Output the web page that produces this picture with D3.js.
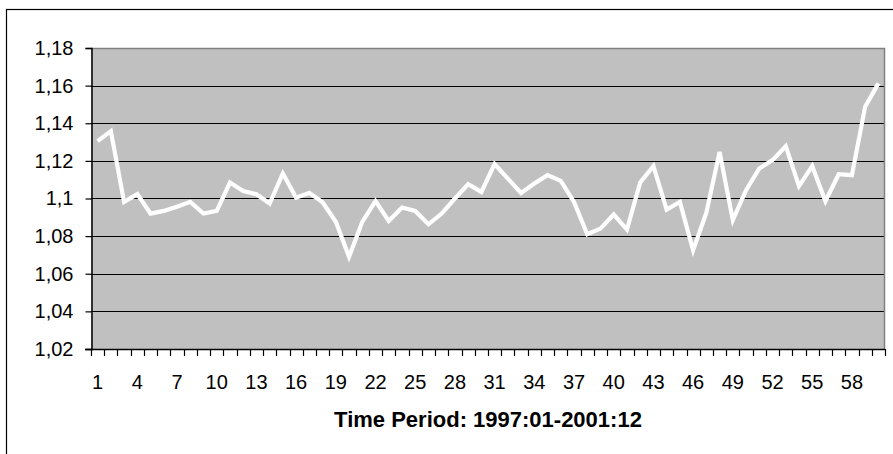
<!DOCTYPE html>
<html>
<head>
<meta charset="utf-8">
<script src="https://cdn.jsdelivr.net/npm/d3@7/dist/d3.min.js"></script>
<style>
  html, body { margin: 0; padding: 0; background: #ffffff; }
  svg { display: block; }
  text { font-family: "Liberation Sans", Arial, sans-serif; fill: #000; }
</style>
</head>
<body>
<svg id="chart" width="893" height="454"></svg>
<script>
// Monthly index, 1997:01 - 2001:12 (periods 1..60)
const periods = d3.range(1, 61);
const values = [
  1.1305, 1.1358, 1.0982, 1.1023, 1.0920, 1.0934, 1.0956, 1.0982, 1.0920, 1.0934,
  1.1085, 1.1040, 1.1023, 1.0973, 1.1133, 1.1004, 1.1030, 1.0980, 1.0876, 1.0690,
  1.0876, 1.0986, 1.0881, 1.0952, 1.0934, 1.0863, 1.0920, 1.1000, 1.1076, 1.1035,
  1.1183, 1.1106, 1.1030, 1.1080, 1.1124, 1.1094, 1.0982, 1.0810, 1.0840, 1.0915,
  1.0835, 1.1085, 1.1172, 1.0941, 1.0982, 1.0725, 1.0924, 1.1248, 1.0885, 1.1044,
  1.1160, 1.1204, 1.1278, 1.1066, 1.1172, 1.0986, 1.1129, 1.1124, 1.1488, 1.1612
];
const yTicks = [1.02, 1.04, 1.06, 1.08, 1.10, 1.12, 1.14, 1.16, 1.18];
const xLabelEvery = 3;
const xTitle = "Time Period: 1997:01-2001:12";

const svg = d3.select("#chart");
const plot = { left: 91, right: 885, top: 48, bottom: 349 };

// Outer chart frame (extends past the visible canvas on right/bottom)
svg.append("rect")
  .attr("x", 6.5).attr("y", 9.5)
  .attr("width", 1000).attr("height", 1000)
  .attr("fill", "none").attr("stroke", "#000").attr("stroke-width", 1.2);

const x = d3.scaleBand().domain(periods).range([plot.left, plot.right]);
const y = d3.scaleLinear().domain([1.02, 1.18]).range([plot.bottom, plot.top]);

// Plot background
svg.append("rect")
  .attr("x", plot.left).attr("y", plot.top)
  .attr("width", plot.right - plot.left).attr("height", plot.bottom - plot.top)
  .attr("fill", "#c0c0c0");

// Horizontal gridlines
svg.append("g").selectAll("line")
  .data(yTicks.filter(v => v > 1.02 && v < 1.18))
  .join("line")
  .attr("x1", plot.left).attr("x2", plot.right)
  .attr("y1", d => Math.round(y(d)) + 0.5).attr("y2", d => Math.round(y(d)) + 0.5)
  .attr("stroke", "#000").attr("stroke-width", 1);

// Plot border top/right in gray
svg.append("path")
  .attr("d", `M${plot.left},${plot.top + 0.5}H${plot.right - 0.5}V${plot.bottom}`)
  .attr("fill", "none").attr("stroke", "#808080").attr("stroke-width", 1.5);

// Y axis
const yAxis = d3.axisLeft(y)
  .tickValues(yTicks)
  .tickSize(6)
  .tickPadding(12)
  .tickFormat(d => d3.format(".2~f")(d).replace(".", ","));
const gy = svg.append("g")
  .attr("transform", `translate(${plot.left + 0.5},0)`)
  .call(yAxis);
gy.select(".domain").attr("stroke", "#000").attr("stroke-width", 1.5);
gy.selectAll(".tick line").attr("stroke", "#000").attr("stroke-width", 1.2);
gy.selectAll(".tick text")
  .attr("font-size", 20)
  .attr("font-family", "'Liberation Sans', Arial, sans-serif")
  .attr("fill", "#000");

// X axis: ticks on category boundaries, labels every third period
const boundaries = periods.map(p => x(p)).concat([plot.right]);
const gx = svg.append("g");
gx.append("line")
  .attr("x1", plot.left - 6).attr("x2", plot.right)
  .attr("y1", plot.bottom + 0.5).attr("y2", plot.bottom + 0.5)
  .attr("stroke", "#000").attr("stroke-width", 1.5);
gx.selectAll("line.tk")
  .data(boundaries)
  .join("line")
  .attr("class", "tk")
  .attr("x1", d => Math.round(d) + 0.5).attr("x2", d => Math.round(d) + 0.5)
  .attr("y1", plot.bottom).attr("y2", plot.bottom + 7)
  .attr("stroke", "#000").attr("stroke-width", 1.2);
gx.selectAll("text")
  .data(periods.filter((p, i) => i % xLabelEvery === 0))
  .join("text")
  .attr("x", d => x(d) + x.bandwidth() / 2)
  .attr("y", 389)
  .attr("text-anchor", "middle")
  .attr("font-size", 20)
  .text(d => d);

// Axis title
svg.append("text")
  .attr("x", (plot.left + plot.right) / 2)
  .attr("y", 427)
  .attr("text-anchor", "middle")
  .attr("font-size", 22)
  .attr("font-weight", "bold")
  .text(xTitle);

// Series line
const line = d3.line()
  .x((d, i) => x(periods[i]) + x.bandwidth() / 2)
  .y(d => y(d));
svg.append("path")
  .datum(values)
  .attr("d", line)
  .attr("fill", "none")
  .attr("stroke", "#ffffff")
  .attr("stroke-width", 4.2)
  .attr("stroke-linejoin", "miter")
  .attr("stroke-linecap", "butt");
</script>
</body>
</html>
